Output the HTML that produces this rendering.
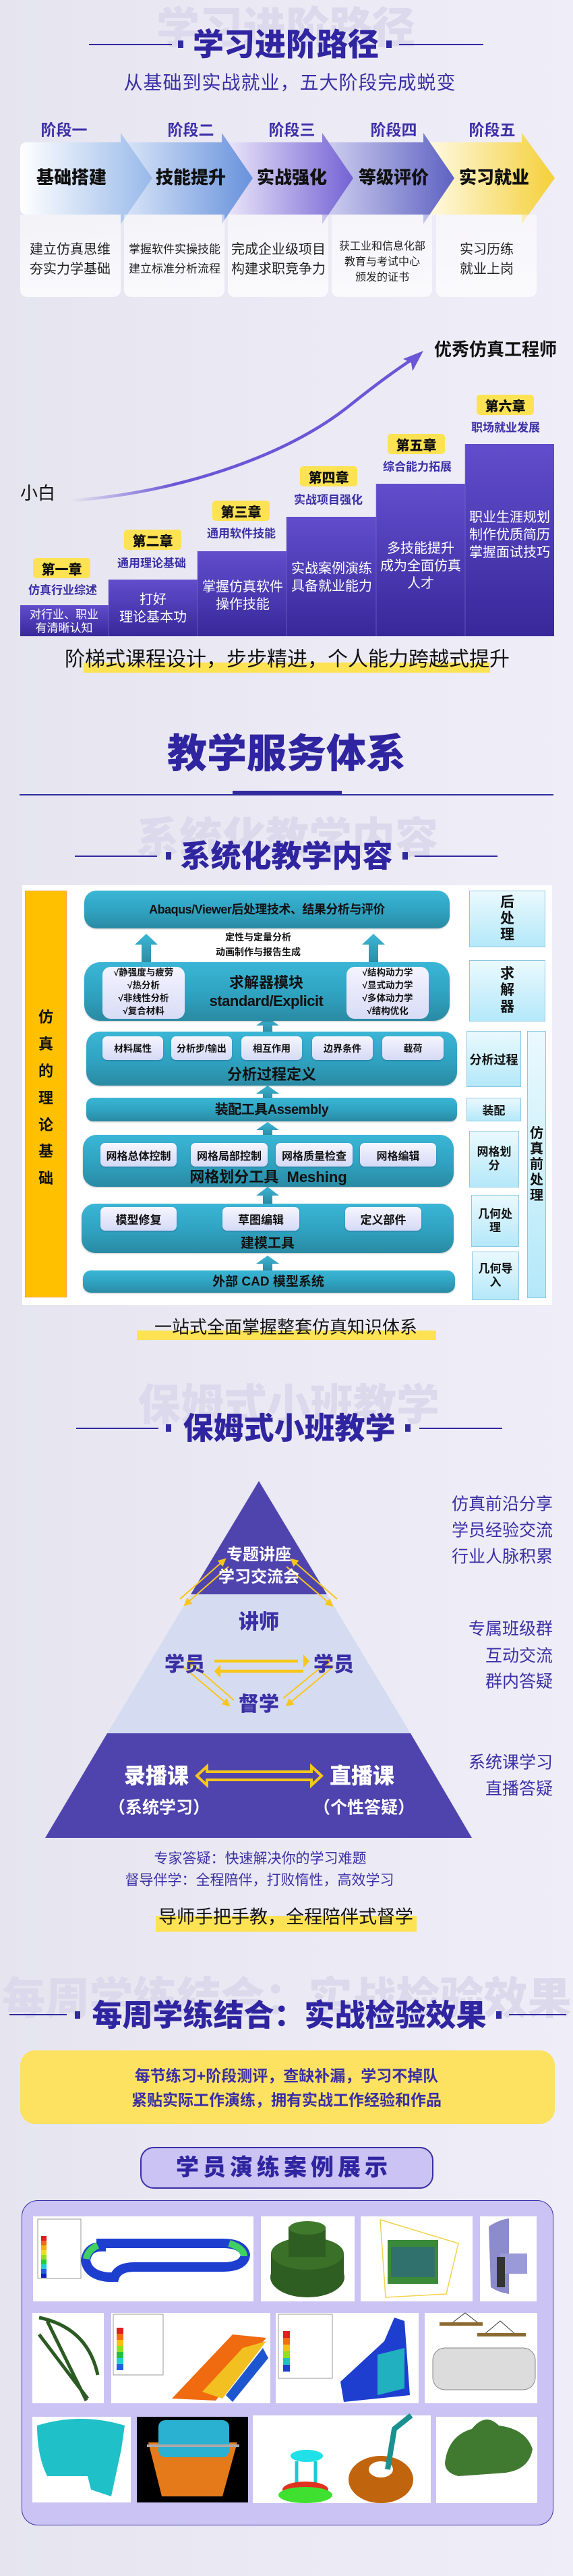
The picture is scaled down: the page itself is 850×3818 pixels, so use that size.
<!DOCTYPE html>
<html><head><meta charset="utf-8">
<style>
*{margin:0;padding:0;box-sizing:border-box}
body{width:850px;height:3818px;position:relative;overflow:hidden;background:linear-gradient(90deg,#e6e5ef 0%,#ebe9f4 50%,#efedf7 100%);font-family:"Liberation Sans","Noto Sans CJK SC",sans-serif;}
.t{position:absolute;transform:translate(-50%,-50%);white-space:nowrap;line-height:1}
.b{font-weight:bold}
.wm{color:#dcd9ec;font-weight:900}
.ttl{color:#3025a0;font-weight:900}
.ln{position:absolute;height:2px;background:#2f2a9e}
.sq{position:absolute;width:8px;height:11px;background:#2f2a9e}
.abs{position:absolute}
.teal{position:absolute;border-radius:18px;background:linear-gradient(180deg,#3bb6d6 0%,#2fa2c0 55%,#2a8aa3 100%);box-shadow:0 1px 2px rgba(0,0,0,.25)}
.sub{position:absolute;border-radius:7px;background:linear-gradient(180deg,#f6f6ff 0%,#d5daf6 100%);box-shadow:0 1px 2px rgba(40,60,120,.4);display:flex;align-items:center;justify-content:center;font-weight:bold;font-size:14px;color:#111}
.rb{position:absolute;background:linear-gradient(180deg,#eaf9fe 0%,#b4e8f9 100%);border:1.5px solid #8fc8e4;display:flex;flex-direction:column;align-items:center;justify-content:center;font-weight:bold;color:#111;text-align:center}
.card{position:absolute;top:318px;height:122px;width:149px;background:linear-gradient(180deg,rgba(255,255,255,.5),#fafafd);border-radius:0 0 10px 10px}
.badge{position:absolute;width:85px;height:30px;background:#fde253;border-radius:5px;display:flex;align-items:center;justify-content:center;font-weight:900;font-size:20px;color:#111}
.bl{color:#3a2fa5;font-weight:bold;font-size:17px}
.sw{color:#fff;font-size:20px;text-align:center;line-height:1.3}
.rt{position:absolute;right:30px;color:#3a2fa5;font-size:25px;line-height:1;white-space:nowrap;transform:translateY(-50%)}
</style></head><body>

<!-- ===== Section 1 ===== -->
<div class="t wm" style="left:424px;top:42px;font-size:64px">学习进阶路径</div>
<div class="ln" style="left:132px;top:65px;width:123px"></div>
<div class="ln" style="left:592px;top:65px;width:125px"></div>
<div class="sq" style="left:264px;top:60px"></div>
<div class="sq" style="left:573px;top:60px"></div>
<div class="t ttl" style="left:424px;top:66px;font-size:46px">学习进阶路径</div>
<div class="t" style="left:430px;top:123px;font-size:28px;color:#3a2fa5;letter-spacing:1px">从基础到实战就业，五大阶段完成蜕变</div>

<div class="t b" style="left:95px;top:193px;font-size:23px;color:#3d2fa8">阶段一</div>
<div class="t b" style="left:283px;top:193px;font-size:23px;color:#3d2fa8">阶段二</div>
<div class="t b" style="left:433px;top:193px;font-size:23px;color:#3d2fa8">阶段三</div>
<div class="t b" style="left:584px;top:193px;font-size:23px;color:#3d2fa8">阶段四</div>
<div class="t b" style="left:730px;top:193px;font-size:23px;color:#3d2fa8">阶段五</div>

<svg class="abs" style="left:0;top:0" width="850" height="340">
<defs>
<linearGradient id="a1" x1="0" x2="1"><stop offset="0" stop-color="#ffffff"/><stop offset="1" stop-color="#98b9ea"/></linearGradient>
<linearGradient id="a2" x1="0" x2="1"><stop offset="0" stop-color="#dce7f8"/><stop offset="1" stop-color="#6892dc"/></linearGradient>
<linearGradient id="a3" x1="0" x2="1"><stop offset="0" stop-color="#efebfb"/><stop offset="1" stop-color="#7462d4"/></linearGradient>
<linearGradient id="a4" x1="0" x2="1"><stop offset="0" stop-color="#d2d2f0"/><stop offset="1" stop-color="#5e62c2"/></linearGradient>
<linearGradient id="a5" x1="0" x2="1"><stop offset="0" stop-color="#fffbe9"/><stop offset="1" stop-color="#f4d03a"/></linearGradient>
</defs>
<polygon points="628,211 774,211 774,197 823,264 774,332 774,318 628,318" fill="url(#a5)"/>
<polygon points="478,211 628,211 628,197 674,264 628,332 628,318 478,318" fill="url(#a4)"/>
<polygon points="329,211 478,211 478,197 524,264 478,332 478,318 329,318" fill="url(#a3)"/>
<polygon points="179,211 329,211 329,197 375,264 329,332 329,318 179,318" fill="url(#a2)"/>
<path d="M40,211 L179,211 L179,197 L226,264 L179,332 L179,318 L40,318 Q30,318 30,308 L30,221 Q30,211 40,211Z" fill="url(#a1)"/>
</svg>
<div class="t" style="left:106px;top:263px;font-size:26px;font-weight:900;color:#111">基础搭建</div>
<div class="t" style="left:283px;top:263px;font-size:26px;font-weight:900;color:#111">技能提升</div>
<div class="t" style="left:433px;top:263px;font-size:26px;font-weight:900;color:#111">实战强化</div>
<div class="t" style="left:584px;top:263px;font-size:26px;font-weight:900;color:#111">等级评价</div>
<div class="t" style="left:733px;top:263px;font-size:26px;font-weight:900;color:#111">实习就业</div>

<div class="card" style="left:30px"></div>
<div class="card" style="left:184px"></div>
<div class="card" style="left:338px"></div>
<div class="card" style="left:492px"></div>
<div class="card" style="left:647px"></div>
<div class="t" style="left:104px;top:385px;font-size:20px;line-height:1.45;text-align:center;color:#222">建立仿真思维<br>夯实力学基础</div>
<div class="t" style="left:259px;top:385px;font-size:17px;line-height:1.7;text-align:center;color:#222">掌握软件实操技能<br>建立标准分析流程</div>
<div class="t" style="left:413px;top:385px;font-size:20px;line-height:1.45;text-align:center;color:#222">完成企业级项目<br>构建求职竞争力</div>
<div class="t" style="left:567px;top:389px;font-size:16px;line-height:1.45;text-align:center;color:#222">获工业和信息化部<br>教育与考试中心<br>颁发的证书</div>
<div class="t" style="left:722px;top:385px;font-size:20px;line-height:1.45;text-align:center;color:#222">实习历练<br>就业上岗</div>

<!-- ===== Section 2 stairs ===== -->
<svg class="abs" style="left:0;top:480px" width="850" height="480">
<defs>
<linearGradient id="st" x1="0" y1="0" x2="0" y2="1"><stop offset="0" stop-color="#624dcc"/><stop offset="1" stop-color="#37289a"/></linearGradient>
<linearGradient id="cv" x1="0" x2="1"><stop offset="0" stop-color="#6a56d6" stop-opacity="0"/><stop offset=".3" stop-color="#6a56d6"/><stop offset="1" stop-color="#6a56d6"/></linearGradient>
</defs>
<path d="M105,262 C260,250 420,200 520,120 C570,80 600,60 618,48" fill="none" stroke="url(#cv)" stroke-width="4.5"/>
<polygon points="628,40 598,52 610,58 612,70" fill="#6a56d6"/>
<rect x="30" y="417" width="131" height="46" fill="url(#st)"/>
<rect x="161" y="379" width="132" height="84" fill="url(#st)"/>
<rect x="293" y="337" width="132" height="126" fill="url(#st)"/>
<rect x="425" y="286" width="133" height="177" fill="url(#st)"/>
<rect x="558" y="237" width="132" height="226" fill="url(#st)"/>
<rect x="690" y="178" width="132" height="285" fill="url(#st)"/>
<g stroke="#7e6fd6" stroke-width="1" opacity=".6"><line x1="161" y1="379" x2="161" y2="463"/><line x1="293" y1="337" x2="293" y2="463"/><line x1="425" y1="286" x2="425" y2="463"/><line x1="558" y1="237" x2="558" y2="463"/><line x1="690" y1="178" x2="690" y2="463"/></g>
</svg>
<div class="t b" style="left:735px;top:518px;font-size:26px;color:#111">优秀仿真工程师</div>
<div class="t" style="left:56px;top:731px;font-size:26px;color:#111">小白</div>

<div class="badge" style="left:49px;top:827px">第一章</div>
<div class="t bl" style="left:93px;top:875px">仿真行业综述</div>
<div class="badge" style="left:184px;top:785px">第二章</div>
<div class="t bl" style="left:225px;top:835px">通用理论基础</div>
<div class="badge" style="left:315px;top:742px">第三章</div>
<div class="t bl" style="left:358px;top:791px">通用软件技能</div>
<div class="badge" style="left:445px;top:691px">第四章</div>
<div class="t bl" style="left:487px;top:741px">实战项目强化</div>
<div class="badge" style="left:575px;top:643px">第五章</div>
<div class="t bl" style="left:619px;top:692px">综合能力拓展</div>
<div class="badge" style="left:707px;top:585px">第六章</div>
<div class="t bl" style="left:750px;top:634px">职场就业发展</div>

<div class="t sw" style="left:95px;top:921px;font-size:17px;line-height:1.15">对行业、职业<br>有清晰认知</div>
<div class="t sw" style="left:227px;top:902px">打好<br>理论基本功</div>
<div class="t sw" style="left:360px;top:883px">掌握仿真软件<br>操作技能</div>
<div class="t sw" style="left:492px;top:856px">实战案例演练<br>具备就业能力</div>
<div class="t sw" style="left:624px;top:839px">多技能提升<br>成为全面仿真<br>人才</div>
<div class="t sw" style="left:756px;top:793px">职业生涯规划<br>制作优质简历<br>掌握面试技巧</div>

<div class="abs" style="left:124px;top:982px;width:603px;height:15px;background:#fde253"></div>
<div class="t" style="left:426px;top:978px;font-size:30px;color:#111">阶梯式课程设计，步步精进，个人能力跨越式提升</div>

<!-- ===== Section 3 ===== -->
<div class="t ttl" style="left:425px;top:1118px;font-size:59px">教学服务体系</div>
<div class="abs" style="left:29px;top:1177px;width:792px;height:1.5px;background:#2f2a9e"></div>
<div class="abs" style="left:345px;top:1172px;width:162px;height:6px;background:#2f2a9e"></div>

<div class="t wm" style="left:426px;top:1243px;font-size:64px">系统化教学内容</div>
<div class="ln" style="left:111px;top:1268px;width:122px"></div>
<div class="ln" style="left:615px;top:1268px;width:123px"></div>
<div class="sq" style="left:246px;top:1263px"></div>
<div class="sq" style="left:597px;top:1263px"></div>
<div class="t ttl" style="left:425px;top:1269px;font-size:45px">系统化教学内容</div>

<div class="abs" style="left:33px;top:1312px;width:786px;height:622px;background:#fff"></div>
<div class="abs" style="left:37px;top:1320px;width:62px;height:603px;background:#ffc000;border:1.5px solid #f7a046"></div>
<div class="t b" style="left:68px;top:1508px;font-size:22px;color:#111">仿</div>
<div class="t b" style="left:68px;top:1548px;font-size:22px;color:#111">真</div>
<div class="t b" style="left:68px;top:1588px;font-size:22px;color:#111">的</div>
<div class="t b" style="left:68px;top:1628px;font-size:22px;color:#111">理</div>
<div class="t b" style="left:68px;top:1668px;font-size:22px;color:#111">论</div>
<div class="t b" style="left:68px;top:1707px;font-size:22px;color:#111">基</div>
<div class="t b" style="left:68px;top:1747px;font-size:22px;color:#111">础</div>

<svg class="abs" style="left:0;top:1300px" width="850" height="640">
<defs><linearGradient id="ar" x1="0" y1="0" x2="0" y2="1"><stop offset="0" stop-color="#3bb6d6"/><stop offset="1" stop-color="#2a8aa3"/></linearGradient></defs>
<g fill="url(#ar)">
<polygon points="217,84 234,100 224,100 224,130 210,130 210,100 200,100"/>
<polygon points="554,84 571,100 561,100 561,130 547,130 547,100 537,100"/>
<polygon points="397,208 414,220 404,220 404,232 390,232 390,220 380,220"/>
<polygon points="397,309 414,321 404,321 404,330 390,330 390,321 380,321"/>
<polygon points="397,363 414,375 404,375 404,384 390,384 390,375 380,375"/>
<polygon points="397,459 414,472 404,472 404,484 390,484 390,472 380,472"/>
<polygon points="397,561 414,573 404,573 404,584 390,584 390,573 380,573"/>
</g>
</svg>

<div class="teal" style="left:125px;top:1320px;width:542px;height:56px"></div>
<div class="t b" style="left:396px;top:1348px;font-size:18px;color:#111;letter-spacing:-.5px">Abaqus/Viewer后处理技术、结果分析与评价</div>
<div class="t b" style="left:383px;top:1389px;font-size:14px;color:#111">定性与定量分析</div>
<div class="t b" style="left:383px;top:1411px;font-size:14px;color:#111">动画制作与报告生成</div>

<div class="teal" style="left:125px;top:1426px;width:542px;height:87px;border-radius:24px"></div>
<div class="abs" style="left:152px;top:1433px;width:122px;height:77px;border-radius:12px;background:linear-gradient(180deg,#f4f4ff,#d8dcf6)"></div>
<div class="abs" style="left:514px;top:1433px;width:122px;height:77px;border-radius:12px;background:linear-gradient(180deg,#f4f4ff,#d8dcf6)"></div>
<div class="t b" style="left:213px;top:1471px;font-size:13.5px;line-height:1.4;color:#111;text-align:center">√静强度与疲劳<br>√热分析<br>√非线性分析<br>√复合材料</div>
<div class="t b" style="left:575px;top:1471px;font-size:13.5px;line-height:1.4;color:#111;text-align:center">√结构动力学<br>√显式动力学<br>√多体动力学<br>√结构优化</div>
<div class="t b" style="left:395px;top:1457px;font-size:22px;color:#111">求解器模块</div>
<div class="t b" style="left:395px;top:1484px;font-size:22px;color:#111;letter-spacing:-.5px">standard/Explicit</div>

<div class="teal" style="left:128px;top:1529px;width:550px;height:80px;border-radius:20px"></div>
<div class="sub" style="left:152px;top:1536px;width:90px;height:35px">材料属性</div>
<div class="sub" style="left:254px;top:1536px;width:90px;height:35px">分析步/输出</div>
<div class="sub" style="left:358px;top:1536px;width:90px;height:35px">相互作用</div>
<div class="sub" style="left:463px;top:1536px;width:90px;height:35px">边界条件</div>
<div class="sub" style="left:567px;top:1536px;width:91px;height:35px">载荷</div>
<div class="t b" style="left:403px;top:1593px;font-size:22px;color:#111">分析过程定义</div>

<div class="teal" style="left:128px;top:1627px;width:550px;height:35px;border-radius:10px"></div>
<div class="t b" style="left:403px;top:1645px;font-size:20px;color:#111;letter-spacing:-.5px">装配工具Assembly</div>

<div class="teal" style="left:123px;top:1682px;width:550px;height:77px;border-radius:20px"></div>
<div class="sub" style="left:149px;top:1694px;width:113px;height:35px;font-size:16px">网格总体控制</div>
<div class="sub" style="left:283px;top:1694px;width:114px;height:35px;font-size:16px">网格局部控制</div>
<div class="sub" style="left:409px;top:1694px;width:114px;height:35px;font-size:16px">网格质量检查</div>
<div class="sub" style="left:534px;top:1694px;width:113px;height:35px;font-size:16px">网格编辑</div>
<div class="t b" style="left:398px;top:1745px;font-size:22px;color:#111">网格划分工具&nbsp; Meshing</div>

<div class="teal" style="left:121px;top:1784px;width:552px;height:73px;border-radius:20px"></div>
<div class="sub" style="left:149px;top:1789px;width:113px;height:35px;font-size:17px">模型修复</div>
<div class="sub" style="left:330px;top:1789px;width:114px;height:35px;font-size:17px">草图编辑</div>
<div class="sub" style="left:512px;top:1789px;width:113px;height:35px;font-size:17px">定义部件</div>
<div class="t b" style="left:397px;top:1843px;font-size:20px;color:#111">建模工具</div>

<div class="teal" style="left:123px;top:1883px;width:552px;height:33px;border-radius:12px"></div>
<div class="t b" style="left:398px;top:1900px;font-size:19px;color:#111">外部 CAD 模型系统</div>

<div class="rb" style="left:696px;top:1320px;width:113px;height:84px;font-size:21px;line-height:1.15">后<br>处<br>理</div>
<div class="rb" style="left:696px;top:1423px;width:113px;height:91px;font-size:21px;line-height:1.15">求<br>解<br>器</div>
<div class="rb" style="left:692px;top:1528px;width:81px;height:83px;font-size:18px">分析过程</div>
<div class="rb" style="left:692px;top:1627px;width:81px;height:35px;font-size:17px">装配</div>
<div class="rb" style="left:696px;top:1676px;width:74px;height:84px;font-size:17px;line-height:1.15">网格划<br>分</div>
<div class="rb" style="left:699px;top:1771px;width:71px;height:77px;font-size:17px;line-height:1.15">几何处<br>理</div>
<div class="rb" style="left:700px;top:1855px;width:70px;height:72px;font-size:17px;line-height:1.15">几何导<br>入</div>
<div class="rb" style="left:782px;top:1528px;width:28px;height:396px;font-size:20px;line-height:1.15">仿<br>真<br>前<br>处<br>理</div>

<div class="abs" style="left:203px;top:1972px;width:444px;height:14px;background:#fde253"></div>
<div class="t" style="left:424px;top:1967px;font-size:26px;color:#111">一站式全面掌握整套仿真知识体系</div>

<!-- ===== Section 4 ===== -->
<div class="t wm" style="left:428px;top:2083px;font-size:64px">保姆式小班教学</div>
<div class="ln" style="left:113px;top:2116px;width:122px"></div>
<div class="ln" style="left:622px;top:2116px;width:123px"></div>
<div class="sq" style="left:246px;top:2111px"></div>
<div class="sq" style="left:601px;top:2111px"></div>
<div class="t ttl" style="left:429px;top:2117px;font-size:45px">保姆式小班教学</div>

<svg class="abs" style="left:0;top:2190px" width="850" height="540">
<defs>
<marker id="ya" markerWidth="6" markerHeight="6" refX="5" refY="3" orient="auto"><path d="M0,0 L6,3 L0,6Z" fill="#f7c61a"/></marker>
</defs>
<polygon points="384,5 485,173 283,173" fill="#4f44ae"/>
<polygon points="283,173 485,173 609,379 159,379" fill="#d5dcf2"/>
<polygon points="159,379 609,379 700,534 67,534" fill="#4f44ae"/>
<g stroke="#f7c61a" stroke-width="2" fill="none" marker-end="url(#ya)">
<line x1="267" y1="180" x2="334" y2="121"/>
<line x1="339" y1="132" x2="274" y2="189"/>
<line x1="500" y1="180" x2="432" y2="121"/>
<line x1="425" y1="132" x2="493" y2="190"/>
<line x1="270" y1="279" x2="340" y2="338"/>
<line x1="347" y1="330" x2="279" y2="271"/>
<line x1="496" y1="279" x2="425" y2="338"/>
<line x1="420" y1="327" x2="490" y2="270"/>
</g>
<g stroke="#f7c61a" stroke-width="4.5" fill="none">
<line x1="318" y1="272" x2="442" y2="272"/>
<line x1="327" y1="287" x2="450" y2="287"/>
</g>
<polygon points="450,262 450,282 459,272" fill="#f7c61a"/>
<polygon points="327,277 327,297 318,287" fill="#f7c61a"/>
<polygon points="292,442 307,428 307,436 462,436 462,428 477,442 462,456 462,448 307,448 307,456" fill="none" stroke="#f7c61a" stroke-width="4" stroke-linejoin="miter"/>
</svg>
<div class="t b" style="left:384px;top:2305px;font-size:24px;color:#fff">专题讲座</div>
<div class="t b" style="left:384px;top:2338px;font-size:24px;color:#fff">学习交流会</div>
<div class="t" style="left:384px;top:2405px;font-size:30px;font-weight:900;color:#3a2fa5">讲师</div>
<div class="t" style="left:274px;top:2468px;font-size:30px;font-weight:900;color:#3a2fa5">学员</div>
<div class="t" style="left:495px;top:2468px;font-size:30px;font-weight:900;color:#3a2fa5">学员</div>
<div class="t" style="left:384px;top:2527px;font-size:30px;font-weight:900;color:#3a2fa5">督学</div>
<div class="t" style="left:232px;top:2632px;font-size:32px;font-weight:900;color:#fff">录播课</div>
<div class="t" style="left:537px;top:2632px;font-size:32px;font-weight:900;color:#fff">直播课</div>
<div class="t b" style="left:236px;top:2680px;font-size:25px;color:#fff">（系统学习）</div>
<div class="t b" style="left:540px;top:2680px;font-size:25px;color:#fff">（个性答疑）</div>

<div class="rt" style="top:2230px">仿真前沿分享</div>
<div class="rt" style="top:2269px">学员经验交流</div>
<div class="rt" style="top:2308px">行业人脉积累</div>
<div class="rt" style="top:2415px">专属班级群</div>
<div class="rt" style="top:2455px">互动交流</div>
<div class="rt" style="top:2493px">群内答疑</div>
<div class="rt" style="top:2613px">系统课学习</div>
<div class="rt" style="top:2652px">直播答疑</div>

<div class="t" style="left:386px;top:2755px;font-size:21px;color:#3a2fa5">专家答疑：快速解决你的学习难题</div>
<div class="t" style="left:385px;top:2787px;font-size:21px;color:#3a2fa5">督导伴学：全程陪伴，打败惰性，高效学习</div>
<div class="abs" style="left:231px;top:2840px;width:387px;height:23px;background:#fde253"></div>
<div class="t" style="left:424px;top:2842px;font-size:27px;color:#111">导师手把手教，全程陪伴式督学</div>

<!-- ===== Section 5 ===== -->
<div class="t wm" style="left:425px;top:2962px;font-size:65px">每周学练结合：实战检验效果</div>
<div class="ln" style="left:14px;top:2985px;width:85px"></div>
<div class="ln" style="left:755px;top:2985px;width:85px"></div>
<div class="sq" style="left:111px;top:2981px"></div>
<div class="sq" style="left:736px;top:2981px"></div>
<div class="t ttl" style="left:429px;top:2987px;font-size:45px">每周学练结合：实战检验效果</div>

<div class="abs" style="left:30px;top:3039px;width:793px;height:109px;background:#fde160;border-radius:22px"></div>
<div class="t b" style="left:425px;top:3077px;font-size:23px;color:#3a2fa5">每节练习+阶段测评，查缺补漏，学习不掉队</div>
<div class="t b" style="left:425px;top:3113px;font-size:23px;color:#3a2fa5">紧贴实际工作演练，拥有实战工作经验和作品</div>

<div class="abs" style="left:208px;top:3182px;width:435px;height:62px;background:#cbc3f3;border:2px solid #3a2fa5;border-radius:20px"></div>
<div class="t" style="left:421px;top:3213px;font-size:34px;font-weight:900;color:#3025a0;letter-spacing:6px">学员演练案例展示</div>

<div class="abs" style="left:32px;top:3261px;width:789px;height:482px;background:#cbc3f3;border:1.5px solid #3a2fa5;border-radius:24px"></div>

<svg class="abs" style="left:0;top:3280px" width="850" height="440">
<!-- row1 -->
<rect x="49" y="5" width="327" height="126" fill="#fff"/>
<rect x="56" y="9" width="64" height="88" fill="#fff" stroke="#999"/>
<g><rect x="61" y="34" width="8" height="7" fill="#e02020"/><rect x="61" y="41" width="8" height="7" fill="#f06a10"/><rect x="61" y="48" width="8" height="7" fill="#f5b010"/><rect x="61" y="55" width="8" height="7" fill="#e8e020"/><rect x="61" y="62" width="8" height="7" fill="#90e020"/><rect x="61" y="69" width="8" height="7" fill="#20d030"/><rect x="61" y="76" width="8" height="7" fill="#20d0d0"/><rect x="61" y="83" width="8" height="7" fill="#2060e0"/><rect x="61" y="90" width="8" height="6" fill="#1020c0"/></g>
<path d="M150,50 Q130,50 127,70 Q130,92 160,95 L170,95 Q175,80 200,80 L330,80 Q362,80 364,62 Q360,45 330,45 L150,45Z" fill="none" stroke="#1e3ed0" stroke-width="14"/>
<path d="M128,68 Q130,55 145,48" stroke="#40d060" stroke-width="10" fill="none"/>
<path d="M340,45 Q362,52 362,64" stroke="#40d060" stroke-width="10" fill="none"/>
<rect x="387" y="5" width="139" height="126" fill="#fff"/>
<ellipse cx="456" cy="95" rx="55" ry="30" fill="#2f5e22"/>
<rect x="402" y="60" width="108" height="36" fill="#2f5e22"/>
<ellipse cx="456" cy="60" rx="54" ry="24" fill="#3a7028"/>
<rect x="428" y="20" width="55" height="45" fill="#2f5e22"/>
<ellipse cx="456" cy="22" rx="27" ry="10" fill="#3f7a2c"/>
<rect x="535" y="5" width="166" height="126" fill="#fff"/>
<path d="M564,10 L680,45 L662,120 L572,125 Z" fill="none" stroke="#f1d34a" stroke-width="1.5"/>
<rect x="575" y="40" width="75" height="65" fill="#3a8a3a"/>
<rect x="580" y="50" width="65" height="45" fill="#2a6090" opacity=".6"/>
<rect x="712" y="5" width="84" height="126" fill="#fff"/>
<path d="M725,20 Q740,10 755,8 L755,120 Q740,118 728,110Z" fill="#8c8ccc"/>
<rect x="742" y="60" width="40" height="30" fill="#9a9ad8"/>
<rect x="737" y="65" width="12" height="45" fill="#333"/>
<!-- row2 -->
<rect x="48" y="148" width="106" height="134" fill="#fff"/>
<path d="M58,155 Q130,170 145,240 M58,180 L130,275 M70,160 L128,278" stroke="#2b5a22" stroke-width="5" fill="none"/>
<rect x="165" y="148" width="236" height="134" fill="#fff"/>
<rect x="168" y="150" width="74" height="90" fill="#fff" stroke="#999"/>
<g><rect x="173" y="170" width="10" height="9" fill="#e02020"/><rect x="173" y="179" width="10" height="9" fill="#f07010"/><rect x="173" y="188" width="10" height="9" fill="#f5c010"/><rect x="173" y="197" width="10" height="9" fill="#90e020"/><rect x="173" y="206" width="10" height="9" fill="#20c040"/><rect x="173" y="215" width="10" height="9" fill="#20d0d0"/><rect x="173" y="224" width="10" height="9" fill="#2060e0"/></g>
<polygon points="255,275 345,180 395,185 320,278" fill="#f06a10"/>
<polygon points="300,265 360,200 395,190 330,275" fill="#f2c020"/>
<polygon points="335,270 390,200 398,215 345,280" fill="#1e56d0"/>
<rect x="409" y="148" width="212" height="134" fill="#fff"/>
<rect x="413" y="150" width="80" height="95" fill="#fff" stroke="#999"/>
<g><rect x="420" y="175" width="10" height="10" fill="#e02020"/><rect x="420" y="185" width="10" height="10" fill="#f07010"/><rect x="420" y="195" width="10" height="10" fill="#f5c010"/><rect x="420" y="205" width="10" height="10" fill="#90e020"/><rect x="420" y="215" width="10" height="10" fill="#20c0c0"/><rect x="420" y="225" width="10" height="10" fill="#1e3ed0"/></g>
<polygon points="585,155 600,160 608,270 510,280 505,250 570,190" fill="#1e3ed0"/>
<polygon points="560,210 600,200 600,260 560,270" fill="#20b0c0"/>
<rect x="630" y="148" width="167" height="134" fill="#fff"/>
<rect x="642" y="200" width="152" height="62" rx="18" fill="#dcdcdc" stroke="#888"/>
<path d="M668,165 L690,148 L712,165 M718,180 L742,160 L765,180" stroke="#333" fill="none"/>
<rect x="652" y="162" width="64" height="5" fill="#8a6a30"/><rect x="708" y="178" width="72" height="5" fill="#8a6a30"/>
<!-- row3 -->
<rect x="48" y="302" width="146" height="127" fill="#fff"/>
<path d="M55,315 Q120,295 185,315 L180,350 L165,420 L135,410 L130,390 L70,390 Q55,360 55,315Z" fill="#20c0c8"/>
<rect x="203" y="302" width="165" height="127" fill="#000"/>
<path d="M220,340 L352,340 L330,420 L240,420Z" fill="#e57a1a"/>
<rect x="235" y="307" width="105" height="55" rx="10" fill="#2ab0d0"/>
<path d="M218,345 L355,345" stroke="#aaa" stroke-width="4"/>
<rect x="375" y="300" width="264" height="130" fill="#fff"/>
<ellipse cx="455" cy="360" rx="24" ry="9" fill="#20e0e8"/>
<path d="M440,368 L440,410 M468,368 L468,410" stroke="#20c8d0" stroke-width="5"/>
<ellipse cx="453" cy="410" rx="34" ry="12" fill="#e03020"/>
<ellipse cx="453" cy="418" rx="40" ry="12" fill="#40e030"/>
<ellipse cx="565" cy="395" rx="48" ry="35" fill="#c0640e"/>
<ellipse cx="565" cy="380" rx="18" ry="12" fill="#fff"/>
<path d="M575,380 L585,320 L610,300" stroke="#1a9090" stroke-width="8" fill="none"/>
<rect x="647" y="302" width="150" height="128" fill="#fff"/>
<path d="M660,370 Q665,330 700,320 Q720,295 740,315 Q780,320 790,350 Q785,380 750,385 L680,390 Q660,385 660,370Z" fill="#3f7a30"/>
</svg>

</body></html>
